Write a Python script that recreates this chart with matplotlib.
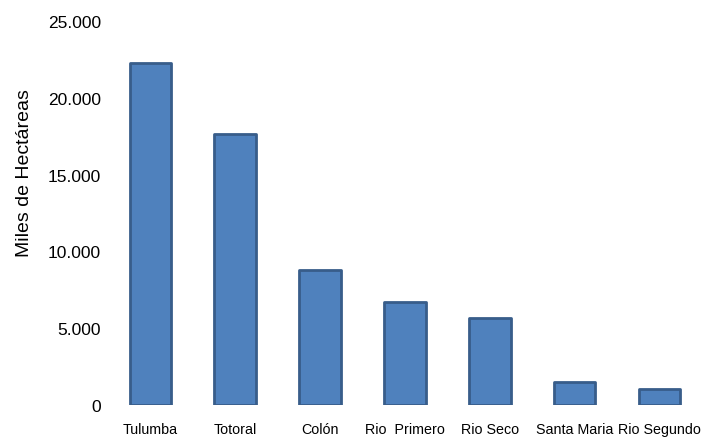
import matplotlib
matplotlib.use("Agg")
import matplotlib.pyplot as plt
from matplotlib.ticker import FuncFormatter

plt.rcParams['font.family'] = ['Liberation Sans', 'DejaVu Sans']

departamentos = ['Tulumba', 'Totoral', 'Colón', 'Rio  Primero', 'Rio Seco',
                 'Santa Maria', 'Rio Segundo']
hectareas = [22280, 17650, 8800, 6710, 5670, 1500, 1040]
y_ticks = [0, 5000, 10000, 15000, 20000, 25000]

fig = plt.figure(figsize=(7.17, 4.39), dpi=100)
ax = fig.add_axes([0.1506, 0.0752, 0.8284, 0.875])

x = range(len(departamentos))
ax.bar(x, hectareas, width=0.49, color='#4F81BD', edgecolor='#385D8A',
       linewidth=2.0, joinstyle='round')

ax.set_xlim(-0.5, len(departamentos) - 0.5)
ax.set_ylim(0, 25000)
ax.set_yticks(y_ticks)
ax.yaxis.set_major_formatter(FuncFormatter(lambda v, p: f'{int(v):,}'.replace(',', '.')))
ax.set_xticks(list(x))
ax.set_xticklabels(departamentos, fontsize=10.3)

for s in ax.spines.values():
    s.set_visible(False)
ax.tick_params(axis='y', length=0, pad=5, labelsize=12.5)
ax.tick_params(axis='x', length=0, pad=12.5)
# etiqueta del eje desplazada hacia arriba
ax.set_ylabel('Miles de Hectáreas', fontsize=14, labelpad=11, y=0.607)

fig.savefig('out.png', dpi=100)
